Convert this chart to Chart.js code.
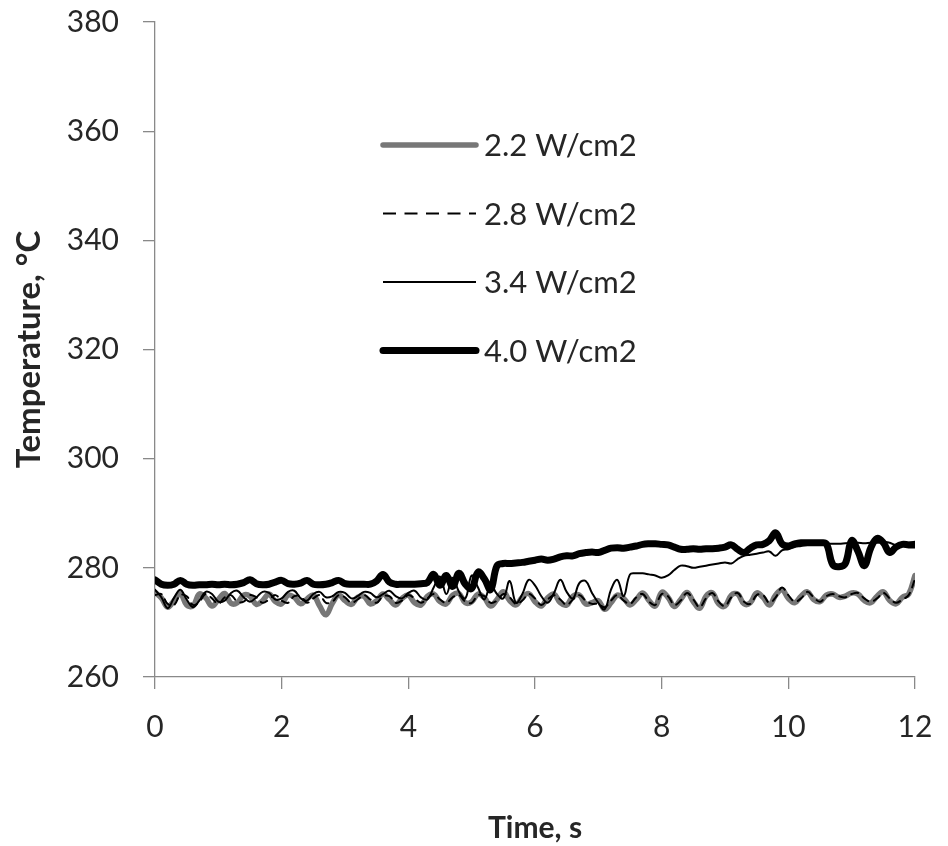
<!DOCTYPE html>
<html>
<head>
<meta charset="utf-8">
<script src="https://cdn.jsdelivr.net/npm/chart.js@4/dist/chart.umd.min.js"></script>
<style>
  html, body { margin: 0; padding: 0; background: #fff; }
  #wrap { width: 948px; height: 846px; position: relative; }
</style>
</head>
<body>
<div id="wrap"><canvas id="temps"></canvas></div>
<script>
// time axis, one sample every 0.1 s
const times = [];
for (let i = 0; i <= 120; i++) times.push(+(i * 0.1).toFixed(1));

const fluxLabels = ['2.2 W/cm2', '2.8 W/cm2', '3.4 W/cm2', '4.0 W/cm2'];
const xTicks = [0, 2, 4, 6, 8, 10, 12];
const yTicks = [260, 280, 300, 320, 340, 360, 380];

// wall temperature, degC
const temp22 = [
  275.5, 274.5, 272.8, 274.0, 275.3, 273.2, 273.0, 275.2, 274.5, 273.0,
  274.2, 275.3, 273.5, 273.6, 275.0, 274.8, 273.3, 274.0, 275.2, 273.8,
  273.4, 275.0, 274.6, 273.4, 274.3, 275.0, 273.0, 271.4, 273.5, 275.0,
  274.0, 273.3, 274.6, 274.8, 273.4, 274.0, 275.2, 274.2, 273.2, 274.4,
  275.0, 273.6, 273.2, 274.8, 275.2, 273.8, 273.4, 275.0, 275.3, 273.6,
  273.8, 275.2, 274.5, 273.0, 274.2, 275.6, 274.0, 273.2, 274.6, 275.3,
  273.8, 273.0, 274.5, 275.2, 273.6, 273.2, 274.8, 275.0, 273.4, 273.6,
  274.0, 272.4, 273.6, 275.0, 274.4, 273.2, 274.2, 275.4, 274.0, 273.0,
  275.5, 274.6, 272.9, 274.2, 275.5, 273.8, 272.6, 274.8, 275.4, 273.4,
  273.0, 275.0, 275.2, 273.4, 273.6, 275.4, 274.6, 273.2, 275.0, 276.0,
  274.4, 273.6, 274.8, 275.6, 274.2, 273.8, 275.0, 275.2, 274.6, 274.8,
  275.4, 275.2, 274.0, 273.6, 274.8, 275.6, 274.0, 273.4, 274.6, 275.2,
  278.6,
];
const temp28 = [
  275.0, 275.2, 273.4, 273.2, 275.0, 274.8, 273.2, 273.8, 275.2, 274.4,
  273.4, 274.6, 275.0, 273.8, 273.8, 275.0, 274.6, 273.6, 274.2, 275.0,
  274.0, 273.6, 274.8, 274.8, 273.6, 274.4, 275.0, 273.6, 273.8, 275.0,
  274.6, 273.6, 274.2, 275.0, 274.2, 273.6, 274.8, 274.8, 273.6, 274.0,
  275.0, 274.4, 273.6, 274.4, 275.2, 274.2, 273.6, 274.6, 275.0, 273.8,
  273.6, 275.0, 274.8, 273.6, 274.0, 275.2, 274.6, 273.4, 274.0, 275.2,
  274.4, 273.2, 274.2, 275.0, 274.2, 273.2, 274.2, 275.0, 274.0, 273.4,
  273.4, 272.8, 274.0, 275.0, 274.0, 273.4, 274.6, 275.2, 273.8, 273.2,
  275.2, 274.8, 273.2, 274.0, 275.4, 274.2, 272.8, 274.4, 275.4, 273.8,
  273.0, 274.6, 275.4, 273.8, 273.4, 275.0, 275.0, 273.6, 274.6, 276.4,
  275.0, 273.8, 274.4, 275.6, 274.6, 273.8, 274.8, 275.2, 274.8, 274.6,
  275.2, 275.4, 274.4, 273.8, 274.4, 275.4, 274.4, 273.6, 274.2, 275.0,
  278.0,
];
const temp34 = [
  276.0, 274.6, 272.6, 274.5, 276.0, 274.2, 272.8, 274.0, 275.6, 275.2,
  273.8, 274.0, 275.4, 275.8, 274.6, 273.8, 274.6, 275.6, 275.4, 274.2,
  274.4, 275.6, 275.8, 274.4, 274.0, 275.2, 275.6, 274.6, 274.8, 275.6,
  275.4, 274.4, 274.8, 275.6, 275.4, 274.6, 275.2, 275.8, 274.8, 274.4,
  275.4, 275.8, 274.6, 274.2, 276.4, 278.4, 275.2, 278.2, 275.6, 274.4,
  278.6, 276.4, 274.2, 276.8, 275.2, 274.4, 277.6, 273.6, 275.2, 277.8,
  276.8, 274.8, 273.6, 275.4, 277.8, 275.6, 274.4, 277.2, 277.6, 275.4,
  273.6, 272.4, 276.0, 277.8, 274.8, 278.8, 279.0, 279.0, 278.8, 278.6,
  278.2, 278.6, 279.6, 280.4, 280.3, 280.0, 280.2, 280.4, 280.6, 280.8,
  281.0, 280.8, 281.6, 282.2, 282.4, 282.6, 282.8, 283.0, 282.2, 283.2,
  283.4, 283.8, 284.0, 284.2, 284.3, 284.4, 284.4, 284.4, 284.4, 284.5,
  284.6, 284.6, 284.5, 284.6, 284.6, 284.8, 284.6, 284.2, 284.4, 284.6,
  284.8,
];
const temp40 = [
  277.8, 277.0, 276.8, 277.0, 277.7, 277.0, 276.8, 276.9, 276.9, 277.0,
  276.9, 277.0, 276.9, 277.0, 277.3, 277.8, 277.1, 276.9, 277.0, 277.4,
  277.7, 277.1, 277.0, 277.2, 277.7, 277.0, 276.9, 277.0, 277.3, 277.7,
  277.1, 277.0, 277.0, 277.0, 277.0, 277.6, 278.8, 277.4, 277.0, 277.0,
  277.0, 277.0, 277.1, 277.3, 278.8, 276.8, 278.6, 276.6, 279.0, 277.0,
  276.2, 279.2, 278.0, 276.0, 280.4, 280.8, 280.8, 280.9, 281.0, 281.2,
  281.4, 281.6, 281.4, 281.6, 282.0, 282.2, 282.2, 282.6, 282.8, 282.9,
  282.8, 283.2, 283.6, 283.7, 283.6, 283.8, 284.0, 284.3, 284.4, 284.4,
  284.3, 284.2, 283.8, 283.4, 283.4, 283.5, 283.4, 283.5, 283.5, 283.6,
  283.8, 284.2, 283.4, 282.8, 283.6, 284.2, 284.3, 285.0, 286.4, 284.4,
  284.0, 284.4, 284.6, 284.6, 284.6, 284.6, 284.4, 280.6, 280.2, 280.8,
  285.0, 283.0, 280.4, 283.6, 285.4, 284.6, 282.8, 283.8, 284.3, 284.2,
  284.2,
];

const axisGrey = '#898989';
const textColor = '#262626';
const font = 'Lato, "Open Sans", sans-serif';

const toPoints = (ys) => ys.map((y, i) => ({ x: times[i], y }));

// legend drawn inside the plot, one row per dataset
const insideLegend = {
  id: 'insideLegend',
  afterDraw(c) {
    const { ctx } = c;
    const x0 = 383;
    const x1 = 476;
    ctx.save();
    ctx.font = `31px ${font}`;
    ctx.textBaseline = 'middle';
    c.data.datasets.forEach((ds, i) => {
      const y = 145 + i * 68.5;
      ctx.beginPath();
      ctx.strokeStyle = ds.borderColor;
      ctx.lineWidth = ds.borderWidth;
      ctx.lineCap = ds.borderWidth > 3 ? 'round' : 'butt';
      ctx.setLineDash(ds.borderDash ? [13, 8.5] : []);
      ctx.moveTo(x0, y);
      ctx.lineTo(x1, y);
      ctx.stroke();
      ctx.setLineDash([]);
      ctx.fillStyle = textColor;
      ctx.fillText(ds.label, x1 + 8, y + 1);
    });
    ctx.restore();
  },
};

const chart = new Chart(document.getElementById('temps'), {
  type: 'line',
  data: {
    datasets: [
      {
        label: fluxLabels[0],
        data: toPoints(temp22),
        borderColor: '#777777',
        borderWidth: 5.5,
        order: 3,
      },
      {
        label: fluxLabels[1],
        data: toPoints(temp28),
        borderColor: '#000',
        borderWidth: 2,
        borderDash: [7, 6],
        order: 2,
      },
      {
        label: fluxLabels[2],
        data: toPoints(temp34),
        borderColor: '#000',
        borderWidth: 2,
        order: 1,
      },
      {
        label: fluxLabels[3],
        data: toPoints(temp40),
        borderColor: '#000',
        borderWidth: 7,
        order: 0,
      },
    ],
  },
  options: {
    responsive: true,
    maintainAspectRatio: false,
    animation: false,
    layout: {
      padding: { left: 10, right: 33, top: 22, bottom: 0 },
    },
    elements: {
      point: { radius: 0 },
      line: { tension: 0.4, borderCapStyle: 'round', borderJoinStyle: 'round' },
    },
    plugins: {
      legend: { display: false },
      tooltip: { enabled: false },
    },
    scales: {
      x: {
        type: 'linear',
        min: 0,
        max: 12,
        afterBuildTicks: (s) => { s.ticks = xTicks.map((v) => ({ value: v })); },
        afterFit: (s) => {
          s.height = 169;
          s.paddingLeft = 0;
          s.paddingRight = 0;
        },
        ticks: { color: textColor, font: { family: font, size: 30 }, padding: 20 },
        grid: {
          drawOnChartArea: false, drawTicks: true, tickLength: 12, color: axisGrey, lineWidth: 1.3,
        },
        border: { display: true, color: axisGrey, width: 1.3 },
        title: {
          display: true,
          text: 'Time, s',
          color: textColor,
          font: { family: font, size: 30, weight: 'bold' },
          padding: { top: 0, bottom: 0 },
        },
      },
      y: {
        min: 260,
        max: 380,
        afterBuildTicks: (s) => { s.ticks = yTicks.map((v) => ({ value: v })); },
        afterFit: (s) => {
          s.width = 145;
          s.paddingTop = 0;
          s.paddingBottom = 0;
        },
        ticks: { color: textColor, font: { family: font, size: 30 }, padding: 24 },
        grid: {
          drawOnChartArea: false, drawTicks: true, tickLength: 12, color: axisGrey, lineWidth: 1.3,
        },
        border: { display: true, color: axisGrey, width: 1.3 },
        title: {
          display: true,
          text: 'Temperature, °C',
          color: textColor,
          font: { family: font, size: 33, weight: 'bold' },
          padding: { top: 0, bottom: 0 },
        },
      },
    },
  },
  plugins: [insideLegend],
});
</script>
</body>
</html>
